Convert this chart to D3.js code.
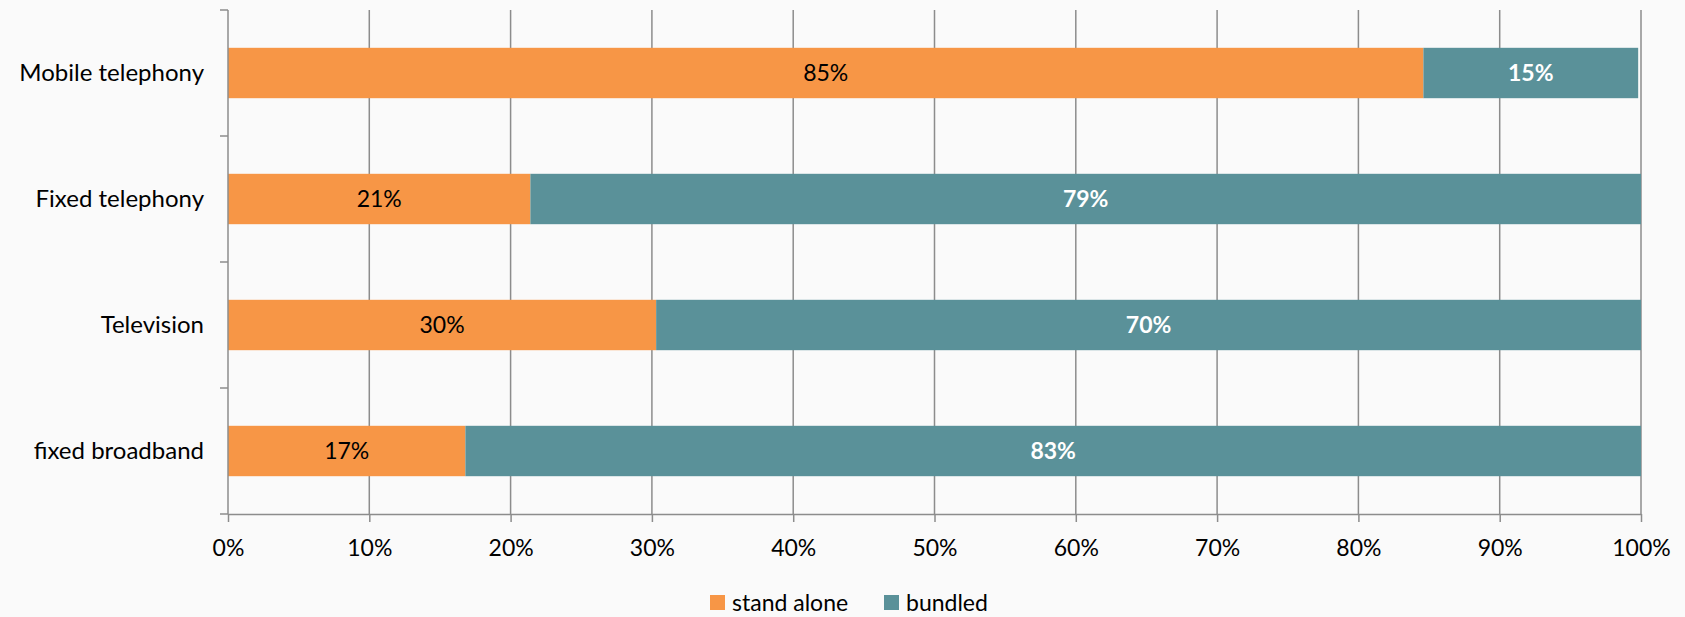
<!DOCTYPE html>
<html>
<head>
<meta charset="utf-8">
<script src="https://cdn.jsdelivr.net/npm/d3@7"></script>
<style>
html,body{margin:0;padding:0;background:#fafafa;}
svg{display:block;}
text{font-family:Lato, "Open Sans", sans-serif;}
</style>
</head>
<body>
<svg id="chart" width="1685" height="617"></svg>
<script>
const categories = ["Mobile telephony", "Fixed telephony", "Television", "fixed broadband"];
const standAlone = [84.6, 21.4, 30.3, 16.8];
const bundled = [15.2, 78.6, 69.7, 83.2];
const standAloneLabels = ["85%", "21%", "30%", "17%"];
const bundledLabels = ["15%", "79%", "70%", "83%"];
const xTicks = [0, 10, 20, 30, 40, 50, 60, 70, 80, 90, 100];
const seriesNames = ["stand alone", "bundled"];
const colors = ["#F79646", "#5A9199"];

const svg = d3.select("#chart");
const margin = {left: 228, right: 44, top: 10, bottom: 103};
const W = 1685, H = 617;
const x = d3.scaleLinear().domain([0, 100]).range([margin.left, W - margin.right]);
const y = d3.scaleBand().domain(categories).range([margin.top, H - margin.bottom]).paddingInner(0.6).paddingOuter(0.3);
const yb = d3.scaleBand().domain(categories).range([margin.top, H - margin.bottom]);

const grid = "#8c8c8c";
svg.append("g").selectAll("line").data(xTicks.slice(1)).join("line")
  .attr("x1", d => x(d)).attr("x2", d => x(d))
  .attr("y1", margin.top).attr("y2", H - margin.bottom)
  .attr("stroke", grid).attr("stroke-width", 1.5);

const rows = categories.map((c, i) => ({c, s: standAlone[i], b: bundled[i], sl: standAloneLabels[i], bl: bundledLabels[i]}));
const g = svg.append("g");
g.selectAll("rect.s").data(rows).join("rect").attr("class", "s")
  .attr("x", x(0)).attr("width", d => x(d.s) - x(0))
  .attr("y", d => y(d.c)).attr("height", y.bandwidth()).attr("fill", colors[0]);
g.selectAll("rect.b").data(rows).join("rect").attr("class", "b")
  .attr("x", d => x(d.s)).attr("width", d => x(d.s + d.b) - x(d.s))
  .attr("y", d => y(d.c)).attr("height", y.bandwidth()).attr("fill", colors[1]);
g.selectAll("text.s").data(rows).join("text").attr("class", "s")
  .attr("x", d => (x(0) + x(d.s)) / 2).attr("y", d => y(d.c) + y.bandwidth() / 2)
  .attr("dy", "0.35em").attr("text-anchor", "middle").attr("font-size", 23).attr("fill", "#000")
  .text(d => d.sl);
g.selectAll("text.b").data(rows).join("text").attr("class", "b")
  .attr("x", d => (x(d.s) + x(d.s + d.b)) / 2).attr("y", d => y(d.c) + y.bandwidth() / 2)
  .attr("dy", "0.35em").attr("text-anchor", "middle").attr("font-size", 23).attr("font-weight", "bold").attr("fill", "#fff")
  .text(d => d.bl);

const xAxis = d3.axisBottom(x).tickValues(xTicks).tickFormat(d => d + "%").tickSize(8).tickSizeOuter(0);
const xg = svg.append("g").attr("transform", `translate(0,${H - margin.bottom})`).call(xAxis);
xg.select(".domain").attr("stroke", grid).attr("stroke-width", 1.5);
xg.selectAll(".tick line").attr("stroke", grid).attr("stroke-width", 1.5);
xg.selectAll(".tick text").attr("font-size", 23).attr("fill", "#000").attr("y", 42).attr("dy", "0")
  .attr("font-family", "Lato, 'Open Sans', sans-serif");

const bounds = categories.map(c => yb(c)).concat([H - margin.bottom]);
const yg = svg.append("g");
yg.append("line").attr("x1", x(0)).attr("x2", x(0)).attr("y1", margin.top).attr("y2", H - margin.bottom)
  .attr("stroke", grid).attr("stroke-width", 1.5);
yg.selectAll("line.t").data(bounds).join("line").attr("class", "t")
  .attr("x1", x(0) - 8).attr("x2", x(0)).attr("y1", d => d).attr("y2", d => d)
  .attr("stroke", grid).attr("stroke-width", 1.5);
yg.selectAll("text").data(categories).join("text")
  .attr("x", x(0) - 24).attr("y", d => yb(d) + yb.bandwidth() / 2)
  .attr("dy", "0.35em").attr("text-anchor", "end").attr("font-size", 24).attr("fill", "#000")
  .text(d => d);

const leg = svg.append("g");
const legX = [710, 884];
seriesNames.forEach((n, i) => {
  leg.append("rect").attr("x", legX[i]).attr("y", 595).attr("width", 15).attr("height", 15).attr("fill", colors[i]);
  leg.append("text").attr("x", legX[i] + 22).attr("y", 602.5).attr("dy", "0.35em").attr("font-size", 23).attr("fill", "#000").text(n);
});
</script>
</body>
</html>
